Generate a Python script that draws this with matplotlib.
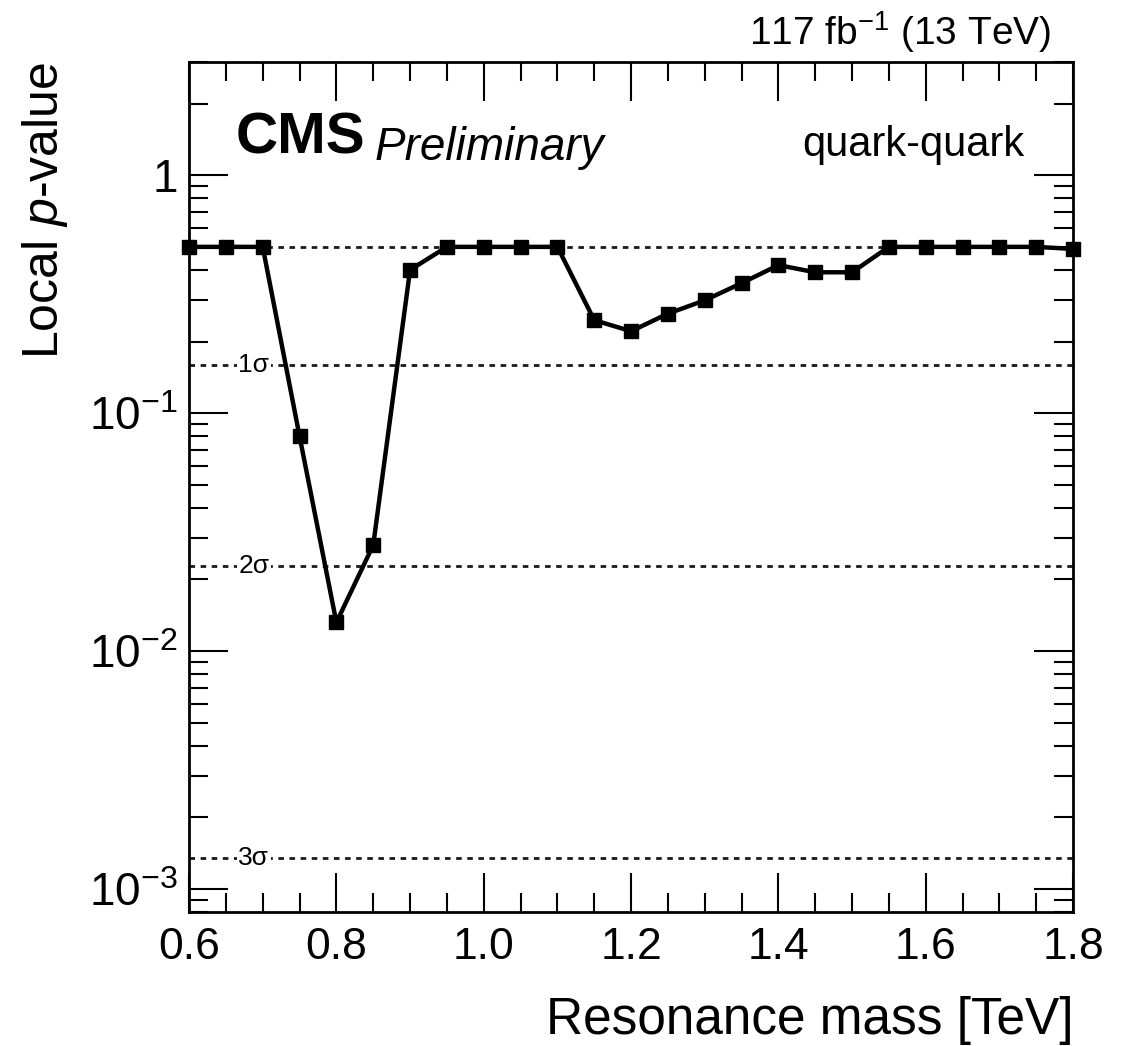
import math
import matplotlib
matplotlib.use("Agg")
import matplotlib.pyplot as plt
from matplotlib.ticker import FixedLocator, LogLocator, FuncFormatter, MultipleLocator, NullFormatter

plt.rcParams['font.family'] = ['Liberation Sans', 'DejaVu Sans']
plt.rcParams['mathtext.fontset'] = 'custom'
plt.rcParams['mathtext.rm'] = 'Liberation Sans'
plt.rcParams['mathtext.it'] = 'Liberation Sans:italic'
plt.rcParams['mathtext.bf'] = 'Liberation Sans:bold'

mass = [0.60, 0.65, 0.70, 0.75, 0.80, 0.85, 0.90, 0.95, 1.00, 1.05, 1.10, 1.15, 1.20,
        1.25, 1.30, 1.35, 1.40, 1.45, 1.50, 1.55, 1.60, 1.65, 1.70, 1.75, 1.80]
pvalue = [0.5, 0.5, 0.5, 0.080, 0.0132, 0.0279, 0.40, 0.5, 0.5, 0.5, 0.5, 0.246, 0.221,
          0.262, 0.298, 0.352, 0.419, 0.391, 0.391, 0.5, 0.5, 0.5, 0.5, 0.5, 0.49]
sigma_values = [0.5, 0.1587, 0.02275, 0.00135]
sigma_labels = ['', '1σ', '2σ', '3σ']

fig = plt.figure(figsize=(11.32, 10.46), dpi=100)
ax = fig.add_axes([0.167, 0.128, 0.781, 0.813])

for v, lab in zip(sigma_values, sigma_labels):
    ax.axhline(v, color='#1a1a1a', lw=2.0, ls=(0, (2.0, 2.0)), zorder=1)
    if lab:
        ax.text(0.688, v, lab, fontsize=19, ha='center', va='center', zorder=2,
                bbox=dict(facecolor='white', edgecolor='none', pad=1.0))

ax.plot(mass, pvalue, color='black', lw=3.2, marker='s', ms=9.5, zorder=3, clip_on=False)

ax.set_yscale('log')
ax.set_xlim(0.6, 1.8)
ax.set_ylim(0.0008, 3.0)

ax.xaxis.set_major_locator(MultipleLocator(0.2))
ax.xaxis.set_minor_locator(MultipleLocator(0.05))
ax.xaxis.set_major_formatter(FuncFormatter(lambda x, p: f"{x:.1f}"))

ax.yaxis.set_major_locator(FixedLocator([1e-3, 1e-2, 1e-1, 1]))
ax.yaxis.set_minor_locator(LogLocator(base=10, subs=range(2, 10)))
ax.yaxis.set_minor_formatter(NullFormatter())

def yfmt(v, p):
    if abs(v - 1) < 1e-9:
        return '1'
    e = int(round(math.log10(v)))
    return r'$\mathregular{10^{%d}}$' % e

ax.yaxis.set_major_formatter(FuncFormatter(yfmt))

ax.tick_params(which='both', direction='in', top=True, right=True, width=1.5, labelsize=32)
ax.tick_params(which='major', length=28, pad=11)
ax.tick_params(which='minor', length=14)
ax.tick_params(axis='y', which='major', pad=8, labelsize=33)
for s in ax.spines.values():
    s.set_linewidth(2)

ax.set_xlabel('Resonance mass [TeV]', fontsize=37, ha='right', x=1.0, labelpad=20)
ax.set_ylabel(r'Local $p$-value', fontsize=36, ha='right', y=1.0, labelpad=14)

ax.text(0.053, 0.91, 'CMS', transform=ax.transAxes, fontsize=42, fontweight='bold',
        ha='left', va='center')
ax.text(0.21, 0.898, 'Preliminary', transform=ax.transAxes, fontsize=33, style='italic',
        ha='left', va='center')
ax.text(0.945, 0.902, 'quark-quark', transform=ax.transAxes, fontsize=30,
        ha='right', va='center')
ax.text(0.975, 1.008, r'117 fb$^{\mathregular{-1}}$ (13 TeV)', transform=ax.transAxes,
        fontsize=28, ha='right', va='bottom')

fig.savefig('out.png', dpi=100, facecolor='white')
